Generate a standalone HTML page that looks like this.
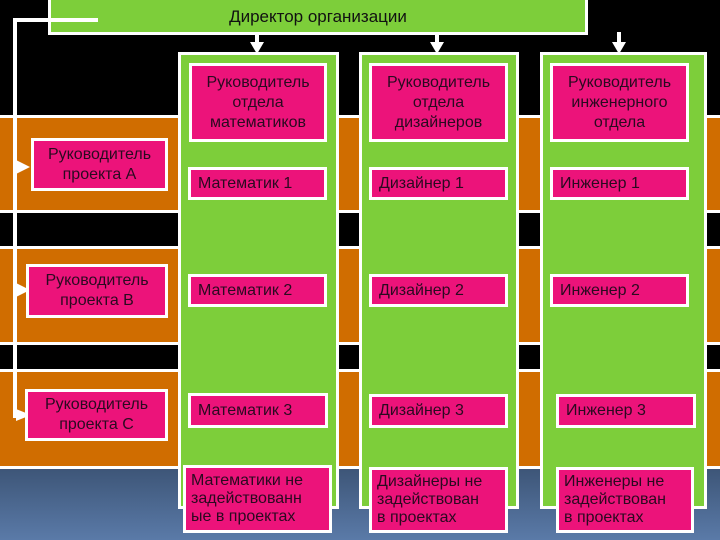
<!DOCTYPE html>
<html><head><meta charset="utf-8"><style>
body{margin:0;width:720px;height:540px;overflow:hidden;background:#000;position:relative;font-family:"Liberation Sans",sans-serif;}
div{position:absolute;box-sizing:border-box;}
.bg{left:0;top:468px;width:720px;height:72px;background:linear-gradient(#3d5577,#5a7aa8);}
.band{left:0;width:720px;background:#d06d00;border-top:3px solid #fff;border-bottom:3px solid #fff;}
.col{background:#7dce3a;border:3px solid #fff;}
.p{background:#ec137a;border:3px solid #fff;color:#2a0a20;font-size:16px;line-height:20px;display:flex;align-items:center;}
.c{justify-content:center;text-align:center;}
.l{padding-left:7px;}
.b{padding-left:5px;line-height:18px;font-size:16px;white-space:nowrap;}
.w{background:#fff;}
</style></head><body>
<div class="bg"></div>
<div class="band" style="top:115px;height:98px"></div>
<div class="band" style="top:246px;height:99px"></div>
<div class="band" style="top:369px;height:100px"></div>
<div class="col" style="left:48px;top:-3px;width:540px;height:38px;color:#111;font-size:17px;text-align:center;line-height:34px;padding-left:0">Директор организации</div>
<div class="w" style="left:14px;top:18px;width:84px;height:4px"></div>
<div class="w" style="left:13px;top:18px;width:4px;height:400px"></div>
<svg width="720" height="540" style="position:absolute;left:0;top:0">
<g fill="#fff"><polygon points="16,160 30,167 16,174"/><polygon points="16,283 30,290 16,297"/><polygon points="16,409 31,415 16,421"/>
<rect x="255" y="34" width="4" height="10"/><polygon points="250,42 264,42 257,54"/>
<rect x="435" y="34" width="4" height="10"/><polygon points="430,42 444,42 437,54"/>
<rect x="617" y="32" width="4" height="12"/><polygon points="612,42 626,42 619,54"/></g></svg>
<div class="col" style="left:178px;top:52px;width:161px;height:457px"></div>
<div class="col" style="left:359px;top:52px;width:160px;height:457px"></div>
<div class="col" style="left:540px;top:52px;width:167px;height:457px"></div>
<div class="p c" style="left:31px;top:138px;width:137px;height:53px">Руководитель<br>проекта А</div>
<div class="p c" style="left:26px;top:264px;width:142px;height:54px">Руководитель<br>проекта В</div>
<div class="p c" style="left:25px;top:389px;width:143px;height:52px">Руководитель<br>проекта С</div>
<div class="p c" style="left:189px;top:63px;width:138px;height:79px">Руководитель<br>отдела<br>математиков</div>
<div class="p c" style="left:369px;top:63px;width:139px;height:79px">Руководитель<br>отдела<br>дизайнеров</div>
<div class="p c" style="left:550px;top:63px;width:139px;height:79px">Руководитель<br>инженерного<br>отдела</div>
<div class="p l" style="left:188px;top:167px;width:139px;height:33px">Математик 1</div>
<div class="p l" style="left:369px;top:167px;width:139px;height:33px">Дизайнер 1</div>
<div class="p l" style="left:550px;top:167px;width:139px;height:33px">Инженер 1</div>
<div class="p l" style="left:188px;top:274px;width:139px;height:33px">Математик  2</div>
<div class="p l" style="left:369px;top:274px;width:139px;height:33px">Дизайнер 2</div>
<div class="p l" style="left:550px;top:274px;width:139px;height:33px">Инженер 2</div>
<div class="p l" style="left:188px;top:393px;width:140px;height:35px">Математик 3</div>
<div class="p l" style="left:369px;top:394px;width:139px;height:34px">Дизайнер 3</div>
<div class="p l" style="left:556px;top:394px;width:140px;height:34px">Инженер 3</div>
<div class="p b" style="left:183px;top:465px;width:149px;height:68px">Математики не<br>задействованн<br>ые в проектах</div>
<div class="p b" style="left:369px;top:467px;width:139px;height:66px">Дизайнеры не<br>задействован<br>в проектах</div>
<div class="p b" style="left:556px;top:467px;width:138px;height:66px">Инженеры не<br>задействован<br>в проектах</div>
</body></html>
